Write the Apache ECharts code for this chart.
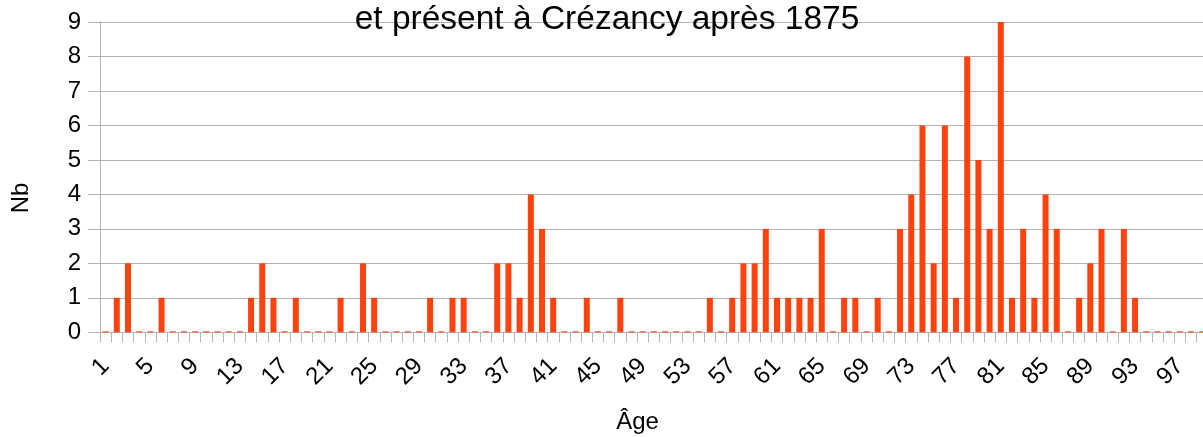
<!DOCTYPE html>
<html>
<head>
<meta charset="utf-8">
<script src="https://cdn.jsdelivr.net/npm/echarts@6/dist/echarts.min.js"></script>
<style>
  html, body { margin: 0; padding: 0; background: #fff; }
  #chart { width: 1203px; height: 437px; }
</style>
</head>
<body>
<div id="chart"></div>
<script>
// Ages 1..100
const ages = Array.from({ length: 100 }, (_, i) => String(i + 1));

// Number of people per age
const counts = [
  0, 1, 2, 0, 0, 1, 0, 0, 0, 0,   // 1-10
  0, 0, 0, 1, 2, 1, 0, 1, 0, 0,   // 11-20
  0, 1, 0, 2, 1, 0, 0, 0, 0, 1,   // 21-30
  0, 1, 1, 0, 0, 2, 2, 1, 4, 3,   // 31-40
  1, 0, 0, 1, 0, 0, 1, 0, 0, 0,   // 41-50
  0, 0, 0, 0, 1, 0, 1, 2, 2, 3,   // 51-60
  1, 1, 1, 1, 3, 0, 1, 1, 0, 1,   // 61-70
  0, 3, 4, 6, 2, 6, 1, 8, 5, 3,   // 71-80
  9, 1, 3, 1, 4, 3, 0, 1, 2, 3,   // 81-90
  0, 3, 1, 0, 0, 0, 0, 0, 0, 0    // 91-100
];

const titleText = 'et présent à Crézancy après 1875';
const xName = 'Âge';
const yName = 'Nb';

const FONT = '"Liberation Sans", Arial, sans-serif';
const GRID_COLOR = '#b3b3b3';

const chart = echarts.init(document.getElementById('chart'), null, { renderer: 'canvas' });

chart.setOption({
  animation: false,
  backgroundColor: '#ffffff',
  grid: {
    left: 100, top: 22, bottom: 104.7, width: 1119,
    containLabel: false,
    outerBoundsMode: 'none'
  },
  xAxis: {
    type: 'category',
    data: ages,
    boundaryGap: true,
    axisLine: { show: true, lineStyle: { color: GRID_COLOR, width: 1 } },
    axisTick: { show: true, interval: 0, length: 10, lineStyle: { color: GRID_COLOR, width: 1 } },
    axisLabel: {
      interval: 3,
      rotate: 45,
      margin: 30,
      fontSize: 24,
      fontFamily: FONT,
      color: '#000'
    },
    splitLine: { show: false }
  },
  yAxis: {
    type: 'value',
    min: 0,
    max: 9,
    interval: 1,
    axisLine: { show: true, lineStyle: { color: GRID_COLOR, width: 1 } },
    axisTick: { show: true, length: 12, lineStyle: { color: GRID_COLOR, width: 1 } },
    axisLabel: { margin: 19, fontSize: 24, fontFamily: FONT, color: '#000' },
    splitLine: { show: true, lineStyle: { color: GRID_COLOR, width: 1 } }
  },
  series: [{
    type: 'bar',
    data: counts,
    barWidth: 6,
    barMinHeight: 1,
    itemStyle: { color: '#ff420e' }
  }],
  graphic: [
    {
      type: 'text', x: 607, y: 19.5, z: 100,
      style: { text: titleText, font: '33.5px ' + FONT, fill: '#000', align: 'center', verticalAlign: 'middle' }
    },
    {
      type: 'text', x: 637.5, y: 422,
      style: { text: xName, font: '24px ' + FONT, fill: '#000', align: 'center', verticalAlign: 'middle' }
    },
    {
      type: 'text', x: 21.5, y: 198, rotation: Math.PI / 2,
      style: { text: yName, font: '24px ' + FONT, fill: '#000', align: 'center', verticalAlign: 'middle' }
    }
  ]
});
</script>
</body>
</html>
